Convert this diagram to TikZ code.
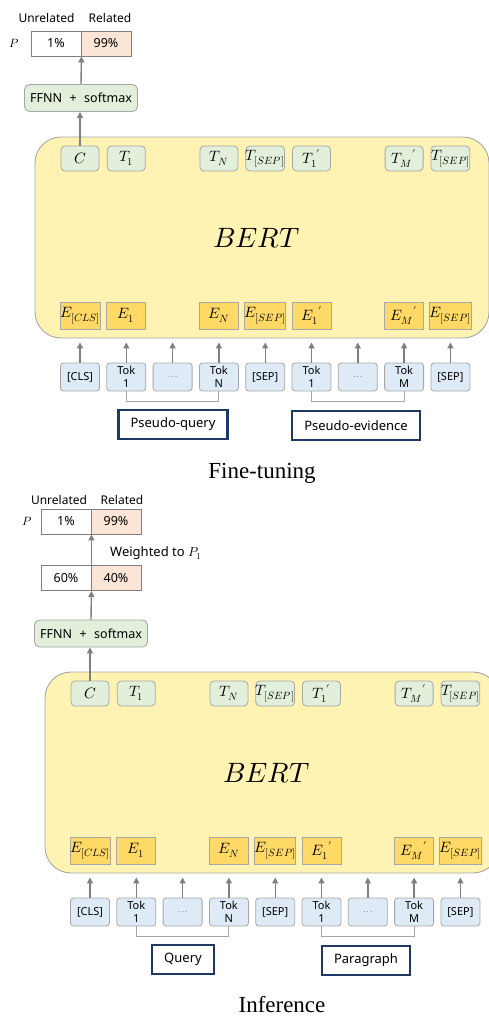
\documentclass[tikz,border=0pt]{standalone}
\usepackage{amsmath}
\usepackage{fontspec}
\usepackage{unicode-math}
\setmathfont{Latin Modern Math}
\newfontfamily\uifont{Noto Sans}
\newfontfamily\capfont{Liberation Serif}
\usepackage{tikz}
\usetikzlibrary{arrows.meta,calc,positioning}

\definecolor{bertfill}{HTML}{FFF3B3}
\definecolor{embfill}{HTML}{FFD966}
\definecolor{outfill}{HTML}{E2EFDA}
\definecolor{tokfill}{HTML}{DEEBF7}
\definecolor{peach}{HTML}{FBE5D6}
\definecolor{navy}{HTML}{203864}
\definecolor{edgegray}{HTML}{A6A6A6}
\definecolor{arrowgray}{HTML}{7F7F7F}

\newcommand{\tokdots}{{\fontsize{8}{10}\selectfont\textcolor{arrowgray}{.\,.\,.}}}

\begin{document}
\begin{tikzpicture}[x=1pt,y=-1pt,>={Triangle[length=6pt,width=6pt]},
  font=\uifont\fontsize{12}{14}\selectfont,
  every node/.style={inner sep=0pt},
  arr/.style={->,draw=arrowgray,line width=1.4pt},
  bertbox/.style={draw=edgegray,fill=bertfill,line width=0.9pt,rounded corners=26pt,minimum width=454pt,minimum height=201pt},
  outbox/.style={draw=edgegray,fill=outfill,line width=0.8pt,rounded corners=4pt,minimum width=38pt,minimum height=25pt,font=\fontsize{15}{17}\selectfont},
  embbox/.style={draw=edgegray,fill=embfill,line width=0.8pt,minimum width=39pt,minimum height=27pt,font=\fontsize{15}{17}\selectfont},
  tokbox/.style={draw=edgegray,fill=tokfill,line width=0.8pt,rounded corners=3pt,minimum width=39pt,minimum height=28pt,align=center,font=\uifont\fontsize{11}{12.5}\selectfont},
  segbox/.style={draw=navy,line width=2.2pt,inner xsep=12pt,minimum height=29pt,font=\uifont\fontsize{13}{15}\selectfont},
  probbox/.style={draw=arrowgray,line width=0.9pt,minimum width=50pt,minimum height=25pt,font=\uifont\fontsize{12.5}{14}\selectfont},
  ffnnbox/.style={draw=edgegray,fill=outfill,line width=0.9pt,rounded corners=5pt,minimum width=113pt,minimum height=27pt,font=\uifont\fontsize{12.5}{14}\selectfont},
  bracket/.style={draw=edgegray,line width=1pt},
  caption/.style={font=\capfont\fontsize{23}{26}\selectfont}
]

\useasboundingbox (0,0) rectangle (488,1018);

% the two BERT stacks
\foreach \p/\dx/\dy/\qry/\evi in {f/0/0/Pseudo-query/Pseudo-evidence,i/10/535/Query/Paragraph}{
  \begin{scope}[xshift=\dx pt,yshift=-\dy pt]
    \node[bertbox] (\p-bert) at (262,237.5) {};
    \node[font=\fontsize{28}{30}\selectfont] (\p-name) at (257,238) {$BERT$};

    \foreach \k/\lab in {0/C,1/T_1,3/T_N,4/T_{[SEP]},5/T_1{}',7/T_M{}',8/T_{[SEP]}}
      \node[outbox] (\p-t\k) at (80+46.3*\k,158.5) {$\lab$};

    \foreach \k/\lab in {0/E_{[CLS]},1/E_1,3/E_N,4/E_{[SEP]},5/E_1{}',7/E_M{}',8/E_{[SEP]}}
      \node[embbox] (\p-e\k) at (80+46.3*\k,315.5) {$\lab$};

    \foreach \k/\lab in {0/[CLS],1/Tok\\1,2/\tokdots,3/Tok\\N,4/[SEP],5/Tok\\1,6/\tokdots,7/Tok\\M,8/[SEP]}{
      \node[tokbox] (\p-k\k) at (80+46.3*\k,377) {\lab};
      \draw[arr,shorten >=4pt] (\p-k\k.north) -- (\p-k\k.north |- \p-bert.south);
    }

    \draw[bracket] (\p-k1.south) -- ++(0,10) -| (\p-k3.south);
    \draw[bracket] (\p-k5.south) -- ++(0,10) -| (\p-k7.south);

    \node[segbox] (\p-q) at (173,424.5) {\qry};
    \node[segbox] (\p-v) at (356,425.5) {\evi};
  \end{scope}
}

% fine-tuning head
\node[probbox] (f-un) at (56,43.5) {1\%};
\node[probbox,fill=peach] (f-re) at (106,43.5) {99\%};
\node (f-unlab) at (46.5,18) {Unrelated};
\node (f-relab) at (110,18) {Related};
\node[left=11pt of f-un] (f-p) {$P$};
\node[ffnnbox] (f-ff) at (81,98) {FFNN\hspace{0.6em}+\hspace{0.6em}softmax};
\draw[arr] (f-t0.north) -- (f-t0.north |- f-ff.south);
\draw[arr] (f-ff.north) -- (f-un.south east);
\node[caption] (f-cap) at (262,473) {Fine-tuning};

% inference head
\node[probbox] (i-un) at (66,521.5) {1\%};
\node[probbox,fill=peach] (i-re) at (116,521.5) {99\%};
\node (i-unlab) at (59,500) {Unrelated};
\node (i-relab) at (122,500) {Related};
\node[left=8pt of i-un] (i-p) {$P$};
\node[probbox] (i-w0) at (66,578) {60\%};
\node[probbox,fill=peach] (i-w1) at (116,578) {40\%};
\node[anchor=west,font=\uifont\fontsize{13}{15}\selectfont] (i-wt) at (110,553) {Weighted to $P_1$};
\node[ffnnbox] (i-ff) at (91,633.5) {FFNN\hspace{0.6em}+\hspace{0.6em}softmax};
\draw[arr] (i-t0.north) -- (i-t0.north |- i-ff.south);
\draw[arr] (i-ff.north) -- (i-w0.south east);
\draw[arr] (i-w0.north east) -- (i-un.south east);
\node[caption] (i-cap) at (282,1005) {Inference};

\end{tikzpicture}
\end{document}
